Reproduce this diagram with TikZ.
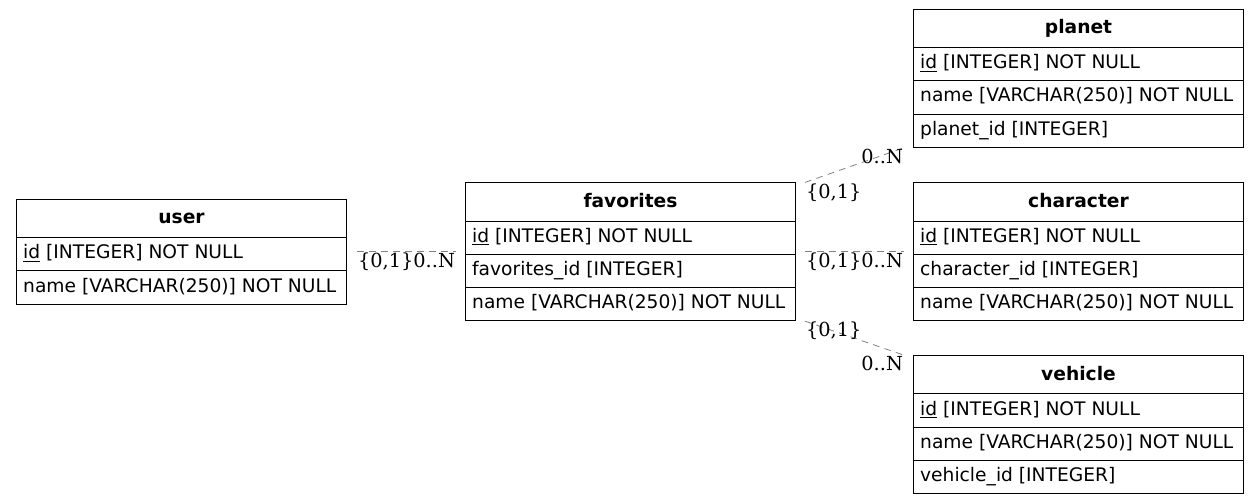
\documentclass[tikz,border=0pt]{standalone}
\usepackage{fontspec}
\setmainfont{DejaVu Sans}
\newfontfamily\cardfont{DejaVu Serif}
\usetikzlibrary{positioning,shapes.multipart}
\newcommand{\hdr}[1]{\rule[-10pt]{0pt}{27.9pt}\textbf{#1}}
\newcommand{\fld}[1]{\rule[-8.7pt]{0pt}{24.15pt}#1}
\tikzset{
  entity/.style={draw, line width=0.75pt, rectangle split, rectangle split parts=#1,
    rectangle split part align={center,left,left,left}, minimum width=247.5pt,
    inner xsep=5pt, inner ysep=0pt, font=\fontsize{14}{17}\selectfont},
  rel/.style={draw=gray, dash pattern=on 5pt off 4pt, line width=0.6pt},
  card/.style={font=\cardfont\fontsize{14.5}{17}\selectfont, inner sep=0.5pt}
}
\begin{document}
\begin{tikzpicture}[x=0.75pt, y=-0.75pt]
\useasboundingbox (0,0) rectangle (1257,503);
\node[entity=3, anchor=north west] (user) at (16,199) {\hdr{user}\nodepart{two}\fld{\underline{id} [INTEGER] NOT NULL}\nodepart{three}\fld{name [VARCHAR(250)] NOT NULL}};
\node[entity=4, right=88.5pt of user] (favorites) {\hdr{favorites}\nodepart{two}\fld{\underline{id} [INTEGER] NOT NULL}\nodepart{three}\fld{favorites\_id [INTEGER]}\nodepart{four}\fld{name [VARCHAR(250)] NOT NULL}};
\node[entity=4, right=87.75pt of favorites] (character) {\hdr{character}\nodepart{two}\fld{\underline{id} [INTEGER] NOT NULL}\nodepart{three}\fld{character\_id [INTEGER]}\nodepart{four}\fld{name [VARCHAR(250)] NOT NULL}};
\node[entity=4, above=26pt of character] (planet) {\hdr{planet}\nodepart{two}\fld{\underline{id} [INTEGER] NOT NULL}\nodepart{three}\fld{name [VARCHAR(250)] NOT NULL}\nodepart{four}\fld{planet\_id [INTEGER]}};
\node[entity=4, below=25.5pt of character] (vehicle) {\hdr{vehicle}\nodepart{two}\fld{\underline{id} [INTEGER] NOT NULL}\nodepart{three}\fld{name [VARCHAR(250)] NOT NULL}\nodepart{four}\fld{vehicle\_id [INTEGER]}};
% relations
\draw[rel] ([xshift=7.5pt]user.east) -- node[card, pos=0, anchor=north west] {\{0,1\}} node[card, pos=1, anchor=north east] {0..N} ([xshift=-6.75pt]favorites.west);
\draw[rel] ([xshift=6.75pt]favorites.north east) -- node[card, pos=0, anchor=north west] {\{0,1\}} node[card, pos=1, anchor=north east] {0..N} ([xshift=-6.75pt]planet.south west);
\draw[rel] ([xshift=6.75pt]favorites.east) -- node[card, pos=0, anchor=north west] {\{0,1\}} node[card, pos=1, anchor=north east] {0..N} ([xshift=-6.75pt]character.west);
\draw[rel] ([xshift=6.75pt]favorites.south east) -- node[card, pos=0, anchor=north west] {\{0,1\}} node[card, pos=1, anchor=north east] {0..N} ([xshift=-6.75pt]vehicle.north west);
\end{tikzpicture}
\end{document}
